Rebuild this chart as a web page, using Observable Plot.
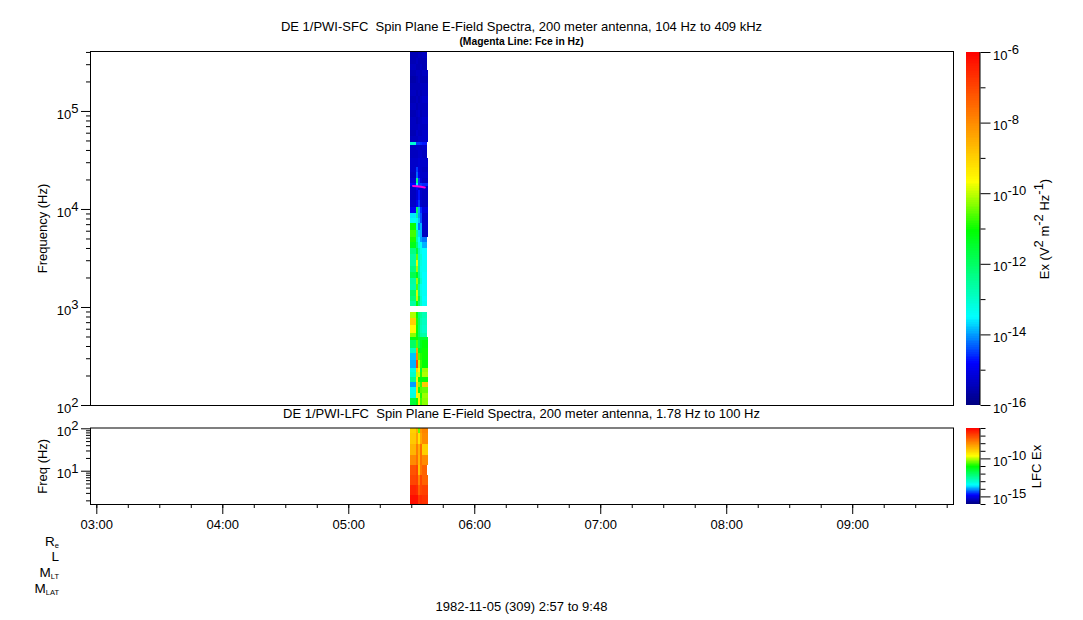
<!DOCTYPE html>
<html>
<head>
<meta charset="utf-8">
<script src="https://cdn.jsdelivr.net/npm/d3@7"></script>
<script src="https://cdn.jsdelivr.net/npm/@observablehq/plot@0.6"></script>
<style>
  html, body { margin: 0; padding: 0; background: #fff; }
  #page { position: relative; width: 1083px; height: 620px; overflow: hidden; font-family: "Liberation Sans", Arial, sans-serif; color: #000; }
  .t { position: absolute; white-space: pre; font-size: 13px; line-height: 14px; }
  .c { left: 0; width: 1043px; text-align: center; }
  .o { left: 0; width: 59px; text-align: right; font-size: 13.5px; line-height: 16px; }
  .o sub { font-size: 7.5px; vertical-align: baseline; position: relative; top: 2px; }
</style>
</head>
<body>
<div id="page">
  <div class="t c" style="top:20px">DE 1/PWI-SFC  Spin Plane E-Field Spectra, 200 meter antenna, 104 Hz to 409 kHz</div>
  <div class="t c" style="top:35px;font-size:10.3px;font-weight:bold">(Magenta Line: Fce in Hz)</div>
  <div class="t c" style="top:407px">DE 1/PWI-LFC  Spin Plane E-Field Spectra, 200 meter antenna, 1.78 Hz to 100 Hz</div>
  <div class="t o" style="top:534px">R<sub>e</sub></div>
  <div class="t o" style="top:549px">L</div>
  <div class="t o" style="top:565px">M<sub>LT</sub></div>
  <div class="t o" style="top:581px">M<sub>LAT</sub></div>
  <div class="t c" style="top:600px">1982-11-05 (309) 2:57 to 9:48</div>
</div>
<script>
// Time edges of the spectrogram columns
const columnEdges = ["05:29:35", "05:32:28", "05:33:25", "05:34:23", "05:35:20", "05:37:41", "05:38:10"];
const timeDomain = ["02:57:00", "09:48:00"];
const hourTicks = ["03:00:00", "04:00:00", "05:00:00", "06:00:00", "07:00:00", "08:00:00", "09:00:00"];

// SFC: log10(Hz) edges of the frequency bands, high to low
const sfcLogF = [5.612, 5.541, 5.480, 5.418, 5.357, 5.286, 5.214, 5.153, 5.082, 5.010,
  4.939, 4.867, 4.806, 4.745, 4.684, 4.653, 4.602, 4.520, 4.429, 4.378,
  4.316, 4.265, 4.235, 4.194, 4.092, 4.020, 3.959, 3.908, 3.857, 3.786,
  3.714, 3.663, 3.602, 3.541, 3.480, 3.418, 3.357, 3.296, 3.235, 3.173,
  3.112, 3.061, 3.010, 2.949, 2.888, 2.816, 2.735, 2.694, 2.663, 2.582,
  2.531, 2.459, 2.378, 2.337, 2.286, 2.235, 2.184, 2.122, 2.071, 2.000];

// SFC: log10(Ex) per band, per time column
const sfcA = [-15.5, -15.5, -15.4, -15.5, -15.6, -15.5, -15.4, -15.5, -15.4, -15.5,
  -15.4, -15.4, -15.5, -15.4, -13.1, -15.4, -15.4, -15.3, -15.3, -15.4,
  -15.2, -14.8, -15.3, -15.4, -15.3, -14.9, -13.6, -13.4, -11.0, -10.7,
  -10.9, -11.3, -12.3, -12.6, -12.6, -12.3, -11.8, -12.6, -12.7, -12.0,
  -12.2, -12.6, null, -10.1, -9.0, -9.6, -10.3, -11.2, -12.0, -12.9,
  -13.8, -13.9, -13.2, -13.0, -12.4, -14.0, -13.3, -13.2, -11.6];
const sfcB = [-15.5, -15.4, -15.5, -15.4, -15.5, -15.5, -15.5, -15.4, -15.5, -15.4,
  -15.5, -15.4, -15.3, -15.4, -14.5, -15.3, -15.4, -15.3, -14.5, -14.3,
  -12.3, -13.5, -14.9, -15.2, -15.0, -12.0, -12.6, -13.3, -13.3, -12.5,
  -12.7, -12.2, -11.5, -10.5, -9.8, -10.2, -11.2, -10.2, -10.6, -9.9,
  -10.0, -11.0, null, -11.0, -10.9, -11.0, -11.2, -11.0, -10.6, -8.4,
  -8.0, -7.0, -9.0, -10.0, -9.5, -9.0, -9.2, -9.5, -11.0];
const sfcC = [-15.4, -15.5, -15.5, -15.4, -15.4, -15.5, -15.4, -15.5, -15.4, -15.3,
  -15.4, -15.3, -15.4, -15.3, -14.5, -15.3, -15.3, -15.2, -15.2, -15.0,
  -14.5, -14.5, -15.2, -14.7, -14.5, -13.9, -14.0, -13.8, -14.2, -13.7,
  -13.5, -13.3, -12.8, -12.9, -12.7, -12.6, -12.4, -11.9, -12.6, -12.3,
  -11.7, -12.2, null, -12.2, -12.0, -12.1, -12.0, -11.5, -11.9, -11.3,
  -10.6, -10.0, -9.7, -9.9, -11.0, -10.3, -11.0, -9.8, -9.5];
const sfcD = [-15.5, -15.5, -15.4, -15.5, -15.5, -15.4, -15.5, -15.4, -15.4, -15.5,
  -15.4, -15.4, -15.4, -15.3, -14.6, -15.4, -15.3, -15.3, -15.3, -15.3,
  -15.2, -14.5, -15.3, -15.3, -15.3, -14.6, -14.4, -14.4, -13.9, -13.9,
  -14.0, -13.4, -13.3, -13.1, -13.2, -13.3, -13.2, -13.0, -13.3, -13.2,
  -13.0, -13.0, null, -12.5, -12.7, -12.8, -12.6, -11.5, -11.3, -11.2,
  -10.9, -10.8, -11.5, -10.9, -11.2, -10.8, -10.6, -10.9, -10.7];
const sfcE = [-15.4, -15.5, -15.5, -15.4, -15.5, -15.4, -15.4, -15.3, -15.4, -15.4,
  -15.3, -15.4, -15.3, -15.3, -14.7, -15.3, -15.4, -15.3, -15.4, -15.3,
  -15.4, -14.6, -15.3, -15.4, -15.4, -15.1, -15.3, -15.3, -15.3, -15.4,
  -14.2, -13.9, -13.5, -13.5, -13.4, -13.4, -13.5, -13.5, -13.5, -13.4,
  -13.5, -13.4, null, -12.8, -12.9, -13.0, -12.7, -11.5, -11.1, -11.0,
  -11.0, -11.1, -10.2, -10.1, -11.0, -8.9, -10.5, -10.2, -10.3];
// Bands where the last sliver of the record has no data
const sfcNarrow = [0, 1, 2, 14, 15, 16, 30, 31, 32, 33, 34, 35, 36, 37, 38, 39, 40, 41, 42, 43, 44, 45, 46];

// LFC: log10(Hz) edges, high to low, and log10(Ex) per band, per time column
const lfcLogF = [2.019, 1.889, 1.630, 1.370, 1.134, 0.899, 0.663, 0.427, 0.215];
const lfcA = [-9.0, -8.9, -8.6, -8.0, -7.2, -7.0, -6.5, -6.2];
const lfcB = [-8.5, -8.3, -7.8, -7.6, -7.0, -6.9, -6.6, -6.2];
const lfcC = [-10.5, -9.3, -8.5, -8.6, -8.8, -7.9, -7.4, -6.8];
const lfcD = [-8.2, -8.4, -7.6, -7.6, -7.7, -7.0, -7.0, -6.6];
const lfcE = [-7.9, -8.0, -9.0, -8.0, -7.4, -7.4, -6.9, -6.7];
const lfcNarrow = [4];

// Magenta line: electron gyrofrequency
const fceTimes = ["05:30:36", "05:32:30", "05:34:20", "05:36:14"];
const fceHz = [17400, 17250, 17050, 16800];

// Colour bar
const colorDomain = [-16, -14.8, -13.5, -11.05, -9.67, -6];
const colorRange = ["#000080", "#0000ff", "#00ffff", "#00ff00", "#ffff00", "#ff0000"];
const barEven = [-16, -14, -12, -10, -8, -6];
const barOdd = [-15, -13, -11, -9, -7];
const lfcBarMajor = [-15, -10];
const lfcBarMinor = [-16, -14, -13, -12, -11, -9, -8, -7, -6];

const T = s => new Date(`1982-11-05T${s}Z`);
const mantissas = [2, 3, 4, 5, 6, 7, 8, 9];
const minors = (decades, lo, hi) => decades.flatMap(d => mantissas.map(m => m * d)).filter(v => v >= lo && v <= hi);
const colorScale = { type: "linear", domain: colorDomain, range: colorRange, clamp: true };
const page = document.getElementById("page");

function cells(edges, columns, narrow) {
  const out = [];
  const cols = [...columns, columns[columns.length - 1].map((v, i) => narrow.includes(i) ? null : v)];
  cols.forEach((col, j) => col.forEach((v, i) => {
    if (v != null) out.push({ t1: T(columnEdges[j]), t2: T(columnEdges[j + 1]), f1: 10 ** edges[i + 1], f2: 10 ** edges[i], v });
  }));
  return out;
}
const pow = e => `10^${e}`;
function raise(svg) {
  svg.querySelectorAll("text").forEach(node => {
    const tgt = [...node.querySelectorAll("tspan")];
    (tgt.length ? tgt : [node]).forEach(n => {
      const s = n.textContent;
      if (!s.includes("^")) return;
      const isTick = s.startsWith("10^");
      n.textContent = "";
      let up = false;
      s.split(/\^(-?\d+)/).forEach((part, i) => {
        if (!part) return;
        const ts = document.createElementNS("http://www.w3.org/2000/svg", "tspan");
        const sup = i % 2 === 1;
        if (sup !== up) { ts.setAttribute("dy", sup ? "-0.45em" : "0.45em"); up = sup; }
        else if (isTick && i === 0) ts.setAttribute("dy", "3");
        ts.textContent = part;
        n.appendChild(ts);
      });
    });
  });
}
function place(svg, left, top) {
  svg.style.position = "absolute";
  svg.style.left = left + "px";
  svg.style.top = top + "px";
  svg.style.maxWidth = "none";
  svg.style.overflow = "visible";
  raise(svg);
  page.appendChild(svg);
}
const fontStyle = { fontFamily: "Liberation Sans", fontSize: "13px", background: "transparent", color: "#000" };
const rectOpts = { x1: "t1", x2: "t2", y1: "f1", y2: "f2", fill: "v", shapeRendering: "crispEdges" };

// Upper panel
const sfcMajor = [100, 1000, 10000, 100000];
place(Plot.plot({
  width: 960, height: 410, marginLeft: 90, marginRight: 7, marginTop: 51, marginBottom: 5,
  style: fontStyle,
  x: { type: "utc", domain: timeDomain.map(T), axis: null },
  y: { type: "log", domain: [100, 409000] },
  color: colorScale,
  marks: [
    Plot.rect(cells(sfcLogF, [sfcA, sfcB, sfcC, sfcD, sfcE], sfcNarrow), rectOpts),
    Plot.line(fceTimes.map((t, i) => ({ t: T(t), f: fceHz[i] })), { x: "t", y: "f", stroke: "#ff00e0", strokeWidth: 2 }),
    Plot.axisY({ ticks: minors(sfcMajor, 100, 409000), tickSize: 4, tickFormat: () => "" }),
    Plot.axisY({ ticks: sfcMajor, tickSize: 9, tickPadding: 3, tickFormat: d => pow(Math.round(Math.log10(d))), label: "Frequency (Hz)", labelAnchor: "center", labelArrow: "none", labelOffset: 53, fontSize: 13 }),
    Plot.frame({ stroke: "#000" })
  ]
}), 0, 0);

// Lower panel
place(Plot.plot({
  width: 960, height: 120, marginLeft: 90, marginRight: 7, marginTop: 7.5, marginBottom: 36,
  style: fontStyle,
  x: { type: "utc", domain: timeDomain.map(T) },
  y: { type: "log", domain: [1.64, 104.5] },
  color: colorScale,
  marks: [
    Plot.rect(cells(lfcLogF, [lfcA, lfcB, lfcC, lfcD, lfcE], lfcNarrow), rectOpts),
    Plot.axisY({ ticks: minors([1, 10], 1.64, 104), tickSize: 4, tickFormat: () => "" }),
    Plot.axisY({ ticks: [10, 100], tickSize: 9, tickPadding: 3, tickFormat: d => pow(Math.round(Math.log10(d))), label: "Freq (Hz)", labelAnchor: "center", labelArrow: "none", labelOffset: 53 }),
    Plot.axisX({ ticks: "15 minutes", tickSize: 4, tickFormat: () => "", label: null }),
    Plot.axisX({ ticks: hourTicks.map(T), tickSize: 10, tickPadding: 5, tickFormat: d3.utcFormat("%H:%M"), label: null, fontSize: 13 }),
    Plot.frame({ stroke: "#000" })
  ]
}), 0, 420);

// Colour bars
const barSteps = d3.range(-16, -6, 0.05).map(v => ({ a: v, b: v + 0.05, x1: 0, x2: 1 }));
const barRect = { x1: "x1", x2: "x2", y1: "a", y2: "b", fill: d => (d.a + d.b) / 2, shapeRendering: "crispEdges" };
place(Plot.plot({
  width: 123, height: 410, marginLeft: 6, marginRight: 103.5, marginTop: 52, marginBottom: 5,
  style: fontStyle,
  x: { domain: [0, 1], axis: null },
  y: { domain: [-16, -6] },
  color: colorScale,
  marks: [
    Plot.rect(barSteps, barRect),
    Plot.ruleX([1], { stroke: "#000" }),
    Plot.axisY({ anchor: "right", ticks: barOdd, tickSize: 5, tickFormat: () => "" }),
    Plot.axisY({ anchor: "right", ticks: barEven, tickSize: 10, tickPadding: 3, tickFormat: pow, label: "Ex (V^2 m^-2 Hz^-1)", labelAnchor: "center", labelArrow: "none", labelOffset: 69 })
  ]
}), 960, 0);
place(Plot.plot({
  width: 123, height: 100, marginLeft: 6, marginRight: 103.5, marginTop: 8, marginBottom: 16,
  style: fontStyle,
  x: { domain: [0, 1], axis: null },
  y: { domain: [-16, -6] },
  color: colorScale,
  marks: [
    Plot.rect(barSteps, barRect),
    Plot.ruleX([1], { stroke: "#000" }),
    Plot.axisY({ anchor: "right", ticks: lfcBarMinor, tickSize: 5, tickFormat: () => "" }),
    Plot.axisY({ anchor: "right", ticks: lfcBarMajor, tickSize: 10, tickPadding: 3, tickFormat: pow, label: "LFC Ex", labelAnchor: "center", labelArrow: "none", labelOffset: 61 })
  ]
}), 960, 420);
</script>
</body>
</html>
